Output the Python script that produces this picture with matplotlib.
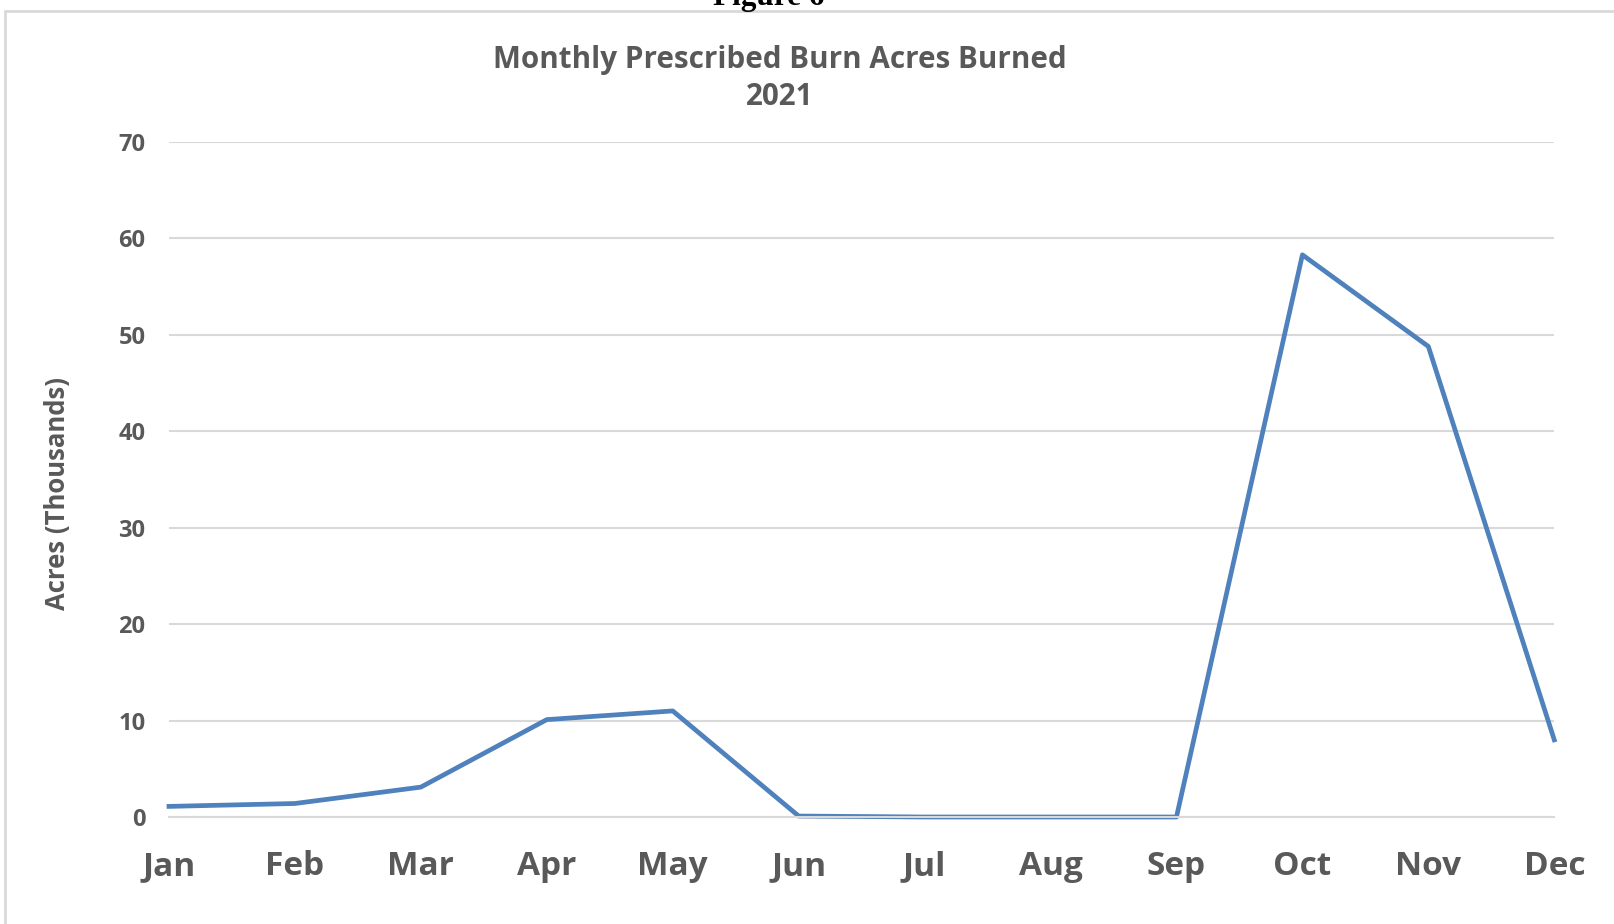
import matplotlib
matplotlib.use('Agg')
import matplotlib.pyplot as plt
from matplotlib.patches import Rectangle

# Data (thousands of acres)
months = ['Jan', 'Feb', 'Mar', 'Apr', 'May', 'Jun', 'Jul', 'Aug', 'Sep', 'Oct', 'Nov', 'Dec']
acres = [1.1, 1.4, 3.1, 10.1, 11.0, 0.1, 0.0, 0.0, 0.0, 58.3, 48.8, 8.0]
y_ticks = [0, 10, 20, 30, 40, 50, 60, 70]

TEXT_GRAY = '#595959'
LINE_BLUE = '#4F81BD'
GRID_GRAY = '#D9D9D9'

plt.rcParams['font.family'] = ['Open Sans', 'DejaVu Sans']

fig = plt.figure(figsize=(16.14, 9.24), dpi=100)
ax = fig.add_axes([0.1047, 0.1158, 0.963 - 0.1047, 0.8463 - 0.1158])

x = list(range(len(months)))
ax.plot(x, acres, color=LINE_BLUE, linewidth=3.4, solid_joinstyle='round', clip_on=False)

ax.set_xlim(0, len(months) - 1)
ax.set_ylim(0, 70)
ax.set_yticks(y_ticks)
ax.set_xticks(x)
ax.set_xticklabels(months)

ax.grid(axis='y', color=GRID_GRAY, linewidth=1.5)
ax.set_axisbelow(True)
for s in ['top', 'right', 'left']:
    ax.spines[s].set_visible(False)
ax.spines['bottom'].set_color(GRID_GRAY)
ax.spines['bottom'].set_linewidth(1.5)

ax.tick_params(axis='y', length=0, pad=17, labelsize=17, labelcolor=TEXT_GRAY)
ax.tick_params(axis='x', length=0, pad=24, labelsize=24, labelcolor=TEXT_GRAY)
for lbl in ax.get_yticklabels() + ax.get_xticklabels():
    lbl.set_fontweight('bold')

ax.set_ylabel('Acres (Thousands)', fontsize=18.5, color=TEXT_GRAY, fontweight='bold')
ax.yaxis.set_label_coords(-0.071, 0.48)

fig.text(0.483, 0.935, 'Monthly Prescribed Burn Acres Burned', ha='center', va='center',
         fontsize=21.3, fontweight='bold', color=TEXT_GRAY)
fig.text(0.483, 0.895, '2021', ha='center', va='center',
         fontsize=21.3, fontweight='bold', color=TEXT_GRAY)

# cut-off caption above the chart frame
fig.text(0.476, 0.9946, 'Figure 6', ha='center', va='baseline', fontsize=22.5,
         fontweight='bold', family='Liberation Serif', color='black')

# light frame around the chart
fig.patches.append(Rectangle((5 / 1614, -0.01), 1.1, 1 - 11 / 924 + 0.01,
                             transform=fig.transFigure, fill=False,
                             edgecolor=GRID_GRAY, linewidth=2))

plt.savefig('out.png', dpi=100)
